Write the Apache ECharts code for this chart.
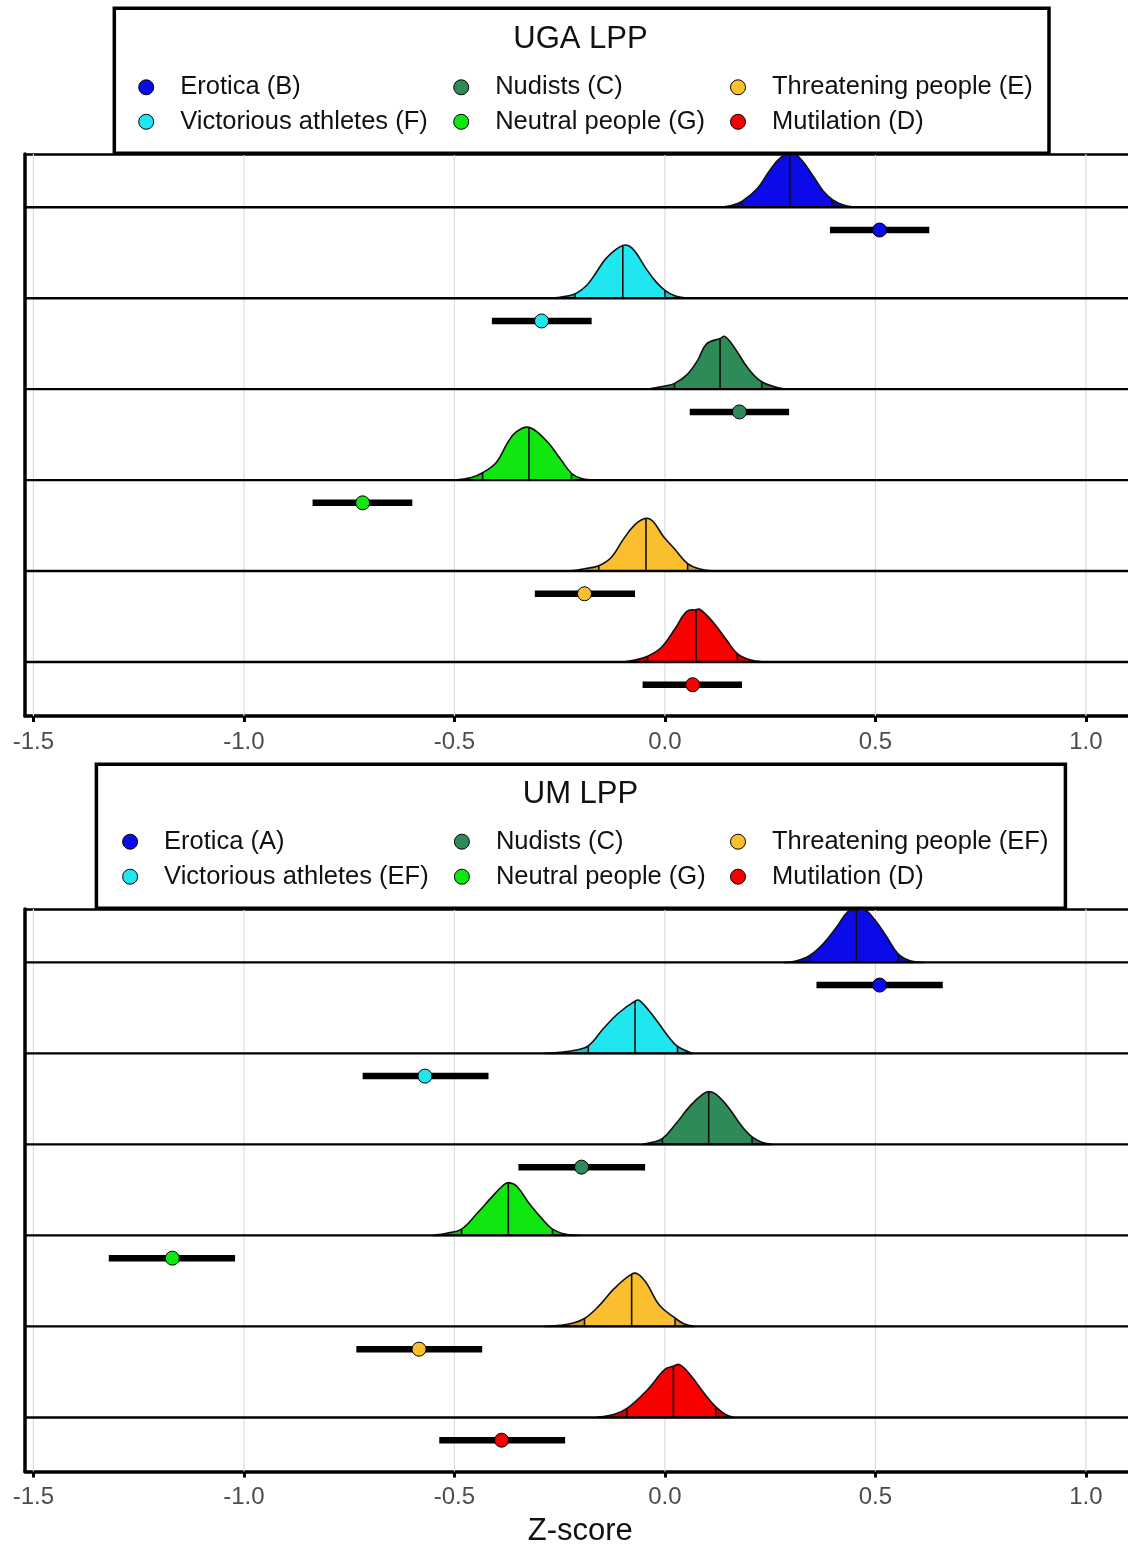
<!DOCTYPE html>
<html>
<head>
<meta charset="utf-8">
<script src="https://cdn.jsdelivr.net/npm/echarts@6/dist/echarts.min.js"></script>
<style>html,body{margin:0;padding:0;background:#fff}#chart{width:1128px;height:1544px}</style>
</head>
<body>
<div id="chart"></div>
<script>
// ---------------- DATA ----------------
const categories = ['Erotica', 'Victorious athletes', 'Nudists', 'Neutral people', 'Threatening people', 'Mutilation'];
const ugaLegend = ['Erotica (B)', 'Victorious athletes (F)', 'Nudists (C)', 'Neutral people (G)', 'Threatening people (E)', 'Mutilation (D)'];
const umLegend = ['Erotica (A)', 'Victorious athletes (EF)', 'Nudists (C)', 'Neutral people (G)', 'Threatening people (EF)', 'Mutilation (D)'];
const panelTitles = ['UGA LPP', 'UM LPP'];
const xTicks = [-1.5, -1.0, -0.5, 0.0, 0.5, 1.0];

// point estimates with intervals
const ugaPoint = [0.510, -0.293, 0.177, -0.718, -0.191, 0.066];
const ugaLow   = [0.392, -0.411, 0.059, -0.837, -0.309, -0.053];
const ugaHigh  = [0.628, -0.174, 0.295, -0.600, -0.071, 0.183];
const umPoint  = [0.510, -0.570, -0.198, -1.170, -0.584, -0.388];
const umLow    = [0.360, -0.718, -0.348, -1.321, -0.733, -0.536];
const umHigh   = [0.660, -0.419, -0.047, -1.021, -0.434, -0.237];

// density quantile lines (lower, median, upper)
const ugaQLow   = [0.183, -0.214, 0.023, -0.433, -0.157, -0.041];
const ugaMedian = [0.297, -0.100, 0.131, -0.323, -0.045, 0.074];
const ugaQHigh  = [0.397, 0.000, 0.230, -0.222, 0.054, 0.172];
const umQLow    = [0.344, -0.182, -0.006, -0.483, -0.191, -0.090];
const umMedian  = [0.455, -0.071, 0.104, -0.372, -0.079, 0.020];
const umQHigh   = [0.554, 0.030, 0.207, -0.267, 0.024, 0.121];

// density curves: [z-score, relative density]
const ugaEroticaDensity = [[0.129,0],[0.160,0.04],[0.183,0.11],[0.220,0.36],[0.249,0.70],[0.276,0.95],[0.297,1.00],[0.318,0.95],[0.353,0.58],[0.375,0.32],[0.397,0.15],[0.422,0.05],[0.451,0]];
const ugaVictoriousDensity = [[-0.278,0],[-0.249,0.02],[-0.214,0.08],[-0.185,0.25],[-0.164,0.48],[-0.138,0.77],[-0.100,1.00],[-0.078,0.95],[-0.043,0.54],[-0.021,0.31],[0.000,0.15],[0.025,0.04],[0.052,0]];
const ugaNudistsDensity = [[-0.043,0],[0.000,0.06],[0.023,0.11],[0.052,0.27],[0.078,0.55],[0.099,0.86],[0.131,0.96],[0.142,1.00],[0.164,0.80],[0.198,0.39],[0.230,0.14],[0.267,0.03],[0.288,0]];
const ugaNeutralDensity = [[-0.498,0],[-0.460,0.05],[-0.433,0.14],[-0.400,0.34],[-0.375,0.69],[-0.354,0.91],[-0.323,1.00],[-0.282,0.75],[-0.249,0.41],[-0.222,0.13],[-0.198,0.03],[-0.168,0]];
const ugaThreatDensity = [[-0.226,0],[-0.194,0.04],[-0.157,0.10],[-0.127,0.26],[-0.099,0.60],[-0.071,0.88],[-0.045,1.00],[-0.028,0.94],[-0.004,0.66],[0.024,0.41],[0.054,0.14],[0.083,0.04],[0.115,0]];
const ugaMutilationDensity = [[-0.099,0],[-0.075,0.03],[-0.041,0.11],[-0.008,0.28],[0.024,0.63],[0.052,0.96],[0.074,0.99],[0.083,1.00],[0.115,0.75],[0.147,0.41],[0.172,0.16],[0.202,0.04],[0.233,0]];

const umEroticaDensity = [[0.285,0],[0.313,0.03],[0.344,0.13],[0.376,0.35],[0.408,0.67],[0.435,0.96],[0.455,0.99],[0.475,0.99],[0.499,0.80],[0.527,0.48],[0.554,0.16],[0.582,0.03],[0.614,0]];
const umVictoriousDensity = [[-0.285,0],[-0.249,0.02],[-0.214,0.06],[-0.182,0.14],[-0.146,0.47],[-0.112,0.75],[-0.071,0.99],[-0.060,1.00],[-0.026,0.69],[0.009,0.31],[0.030,0.13],[0.065,0]];
const umNudistsDensity = [[-0.052,0],[-0.030,0.04],[-0.006,0.11],[0.026,0.39],[0.060,0.73],[0.090,0.95],[0.104,1.00],[0.121,0.95],[0.151,0.70],[0.181,0.36],[0.207,0.14],[0.230,0.04],[0.254,0]];
const umNeutralDensity = [[-0.550,0],[-0.519,0.04],[-0.483,0.12],[-0.447,0.41],[-0.412,0.72],[-0.384,0.95],[-0.372,1.00],[-0.352,0.93],[-0.321,0.59],[-0.289,0.29],[-0.267,0.12],[-0.234,0.02],[-0.202,0]];
const umThreatDensity = [[-0.285,0],[-0.249,0.02],[-0.220,0.06],[-0.191,0.15],[-0.159,0.37],[-0.120,0.72],[-0.079,0.99],[-0.064,0.99],[-0.043,0.81],[-0.013,0.40],[0.024,0.16],[0.045,0.05],[0.069,0]];
const umMutilationDensity = [[-0.163,0],[-0.120,0.06],[-0.090,0.17],[-0.043,0.51],[0.000,0.91],[0.020,0.97],[0.035,1.00],[0.060,0.81],[0.095,0.44],[0.121,0.20],[0.145,0.05],[0.164,0]];

// ---------------- STYLE / LAYOUT ----------------
const colors = ['#0b0bea', '#1fe6ef', '#2e8b57', '#10e610', '#fbbe2e', '#f60000'];
const FONT = '"Liberation Sans", Arial, sans-serif';
const X_MIN = -1.52, X_MAX = 1.10, Y_MIN = -0.594, Y_MAX = 5.586;
const RIDGE = 0.58, PT_OFF = 0.25;

function shade(hex, f) {
  const n = parseInt(hex.slice(1), 16);
  const r = Math.round(((n >> 16) & 255) * f), g = Math.round(((n >> 8) & 255) * f), b = Math.round((n & 255) * f);
  return 'rgb(' + r + ',' + g + ',' + b + ')';
}

const panels = [
  { legend: ugaLegend, dens: [ugaEroticaDensity, ugaVictoriousDensity, ugaNudistsDensity, ugaNeutralDensity, ugaThreatDensity, ugaMutilationDensity],
    qlo: ugaQLow, qmed: ugaMedian, qhi: ugaQHigh, pt: ugaPoint, lo: ugaLow, hi: ugaHigh,
    grid: { left: 25, right: 0, top: 154, height: 562, outerBoundsMode: 'none', containLabel: false },
    box: [114.3, 8.3, 934.7, 145], titleY: 39.5, legTop: 73.3, legGap: 6.5, legLeft: [138.2, 453.2, 730] },
  { legend: umLegend, dens: [umEroticaDensity, umVictoriousDensity, umNudistsDensity, umNeutralDensity, umThreatDensity, umMutilationDensity],
    qlo: umQLow, qmed: umMedian, qhi: umQHigh, pt: umPoint, lo: umLow, hi: umHigh,
    grid: { left: 25, right: 0, top: 909, height: 562.5, outerBoundsMode: 'none', containLabel: false },
    box: [96.4, 764.3, 969, 144], titleY: 794.5, legTop: 827.7, legGap: 7, legLeft: [122.1, 453.9, 730] }
];

const nRows = categories.length;
const grids = [], xAxes = [], yAxes = [], series = [], legends = [], graphics = [];

panels.forEach((P, gi) => {
  grids.push(P.grid);
  const xb = xAxes.length;
  xAxes.push({
    type: 'value', gridIndex: gi, min: X_MIN, max: X_MAX, position: 'bottom',
    axisLine: { show: true, onZero: false, lineStyle: { color: '#000', width: 3.5 } },
    axisTick: { show: true, length: 6, customValues: xTicks, lineStyle: { color: '#000', width: 3 } },
    axisLabel: { show: true, customValues: xTicks, margin: 14, fontSize: 24, lineHeight: 24, color: '#4d4d4d', fontFamily: FONT,
      formatter: v => v.toFixed(1) },
    splitLine: { show: false },
    name: gi === 1 ? 'Z-score' : '', nameLocation: 'middle', nameGap: 44,
    nameTextStyle: { fontSize: 31, lineHeight: 31, color: '#111', fontFamily: FONT, padding: [0, 0, 0, 7.6] }
  });
  xAxes.push({
    type: 'value', gridIndex: gi, min: X_MIN, max: X_MAX, position: 'top',
    axisLine: { show: true, onZero: false, lineStyle: { color: '#000', width: 2.5 } },
    axisTick: { show: false }, axisLabel: { show: false }, splitLine: { show: false }
  });
  yAxes.push({
    type: 'value', gridIndex: gi, min: Y_MIN, max: Y_MAX,
    axisLine: { show: true, onZero: false, lineStyle: { color: '#000', width: 3.5 } },
    axisTick: { show: false }, axisLabel: { show: false }, splitLine: { show: false }
  });

  // vertical grid lines
  series.push({
    type: 'custom', xAxisIndex: xb, yAxisIndex: gi, silent: true, z: 1,
    data: xTicks.map(v => [v]),
    renderItem: (params, api) => {
      const a = api.coord([api.value(0), Y_MIN]), b = api.coord([api.value(0), Y_MAX]);
      return { type: 'line', shape: { x1: a[0], y1: a[1], x2: b[0], y2: b[1] }, style: { stroke: '#dcdcdc', lineWidth: 1.2 } };
    }
  });

  // densities
  series.push({
    type: 'custom', xAxisIndex: xb, yAxisIndex: gi, silent: true, z: 2, clip: true,
    data: categories.map((c, i) => [i]),
    renderItem: (params, api) => {
      const i = params.dataIndex;
      const base = nRows - 1 - i;
      const d = P.dens[i];
      const pts = d.map(p => api.coord([p[0], base + p[1] * RIDGE]));
      let mnx = Infinity, mny = Infinity, mxx = -Infinity, mxy = -Infinity;
      pts.forEach(p => { mnx = Math.min(mnx, p[0]); mny = Math.min(mny, p[1]); mxx = Math.max(mxx, p[0]); mxy = Math.max(mxy, p[1]); });
      const hAt = x => {
        for (let j = 0; j < d.length - 1; j++) {
          const a = d[j], b = d[j + 1];
          if (x >= a[0] - 1e-9 && x <= b[0] + 1e-9) {
            const t = (b[0] - a[0]) ? (x - a[0]) / (b[0] - a[0]) : 0;
            return a[1] + t * (b[1] - a[1]);
          }
        }
        return 0;
      };
      const qLine = x => {
        const p0 = api.coord([x, base]), p1 = api.coord([x, base + hAt(x) * RIDGE]);
        return { type: 'line', shape: { x1: p0[0], y1: p0[1], x2: p1[0], y2: p1[1] }, style: { stroke: '#111', lineWidth: 1.6 } };
      };
      const xl = api.coord([P.qlo[i], base])[0], xh = api.coord([P.qhi[i], base])[0];
      const yTop = api.coord([0, base + 1])[1], yBot = api.coord([0, base])[1];
      const mk = () => ({ points: pts.map(p => p.slice()), smooth: 0.4, smoothConstraint: [[mnx, mny - 2], [mxx, mxy]] });
      return {
        type: 'group', children: [
          { type: 'polygon', shape: mk(), style: { fill: shade(colors[i], 0.84), stroke: null } },
          { type: 'polygon', shape: mk(), style: { fill: colors[i], stroke: null },
            clipPath: { type: 'rect', shape: { x: xl, y: yTop, width: xh - xl, height: yBot - yTop + 2 } } },
          qLine(P.qlo[i]), qLine(P.qmed[i]), qLine(P.qhi[i]),
          { type: 'polygon', shape: mk(), style: { fill: null, stroke: '#111', lineWidth: 1.6 } }
        ]
      };
    }
  });

  // row baselines
  series.push({
    type: 'custom', xAxisIndex: xb, yAxisIndex: gi, silent: true, z: 3,
    data: categories.map((c, i) => [nRows - 1 - i]),
    renderItem: (params, api) => {
      const y = api.value(0);
      const a = api.coord([X_MIN, y]), b = api.coord([X_MAX, y]);
      return { type: 'line', shape: { x1: a[0], y1: a[1], x2: b[0], y2: b[1] }, style: { stroke: '#000', lineWidth: 2.4 } };
    }
  });

  // interval bars
  series.push({
    type: 'custom', xAxisIndex: xb, yAxisIndex: gi, silent: true, z: 4,
    encode: { x: [0, 1], y: 2 },
    data: categories.map((c, i) => [P.lo[i], P.hi[i], nRows - 1 - i]),
    renderItem: (params, api) => {
      const y = api.value(2) - PT_OFF;
      const a = api.coord([api.value(0), y]), b = api.coord([api.value(1), y]);
      return { type: 'line', shape: { x1: a[0], y1: a[1], x2: b[0], y2: b[1] }, style: { stroke: '#000', lineWidth: 6.5, lineCap: 'butt' } };
    }
  });

  // points
  categories.forEach((c, i) => {
    series.push({
      type: 'scatter', name: P.legend[i], xAxisIndex: xb, yAxisIndex: gi, z: 5, silent: true,
      symbol: 'circle', symbolSize: 14,
      itemStyle: { color: colors[i], borderColor: '#000', borderWidth: 1, opacity: 1 },
      data: [[P.pt[i], nRows - 1 - i - PT_OFF]]
    });
  });

  // legend box + title
  graphics.push({ type: 'rect', z: 50, shape: { x: P.box[0], y: P.box[1], width: P.box[2], height: P.box[3] },
    style: { fill: '#fff', stroke: '#000', lineWidth: 3.5 } });
  graphics.push({ type: 'text', z: 51, x: 580.5, y: P.titleY,
    style: { text: panelTitles[gi], fontSize: 31, fontFamily: FONT, fill: '#111', align: 'center', verticalAlign: 'middle' } });

  // legends: three columns of two
  for (let c = 0; c < 3; c++) {
    legends.push({
      data: [P.legend[c * 2], P.legend[c * 2 + 1]],
      orient: 'vertical', left: P.legLeft[c], top: P.legTop, itemGap: P.legGap,
      itemWidth: 58, itemHeight: 15, icon: 'circle', padding: 0, selectedMode: false, z: 60,
      itemStyle: { borderColor: '#000', borderWidth: 1 },
      textStyle: { fontSize: 25.5, lineHeight: 28, color: '#111', fontFamily: FONT }
    });
  }
});

const chart = echarts.init(document.getElementById('chart'), null, { renderer: 'canvas' });
chart.setOption({
  animation: false,
  backgroundColor: '#fff',
  grid: grids,
  xAxis: xAxes,
  yAxis: yAxes,
  legend: legends,
  graphic: { elements: graphics },
  series: series
});
</script>
</body>
</html>
